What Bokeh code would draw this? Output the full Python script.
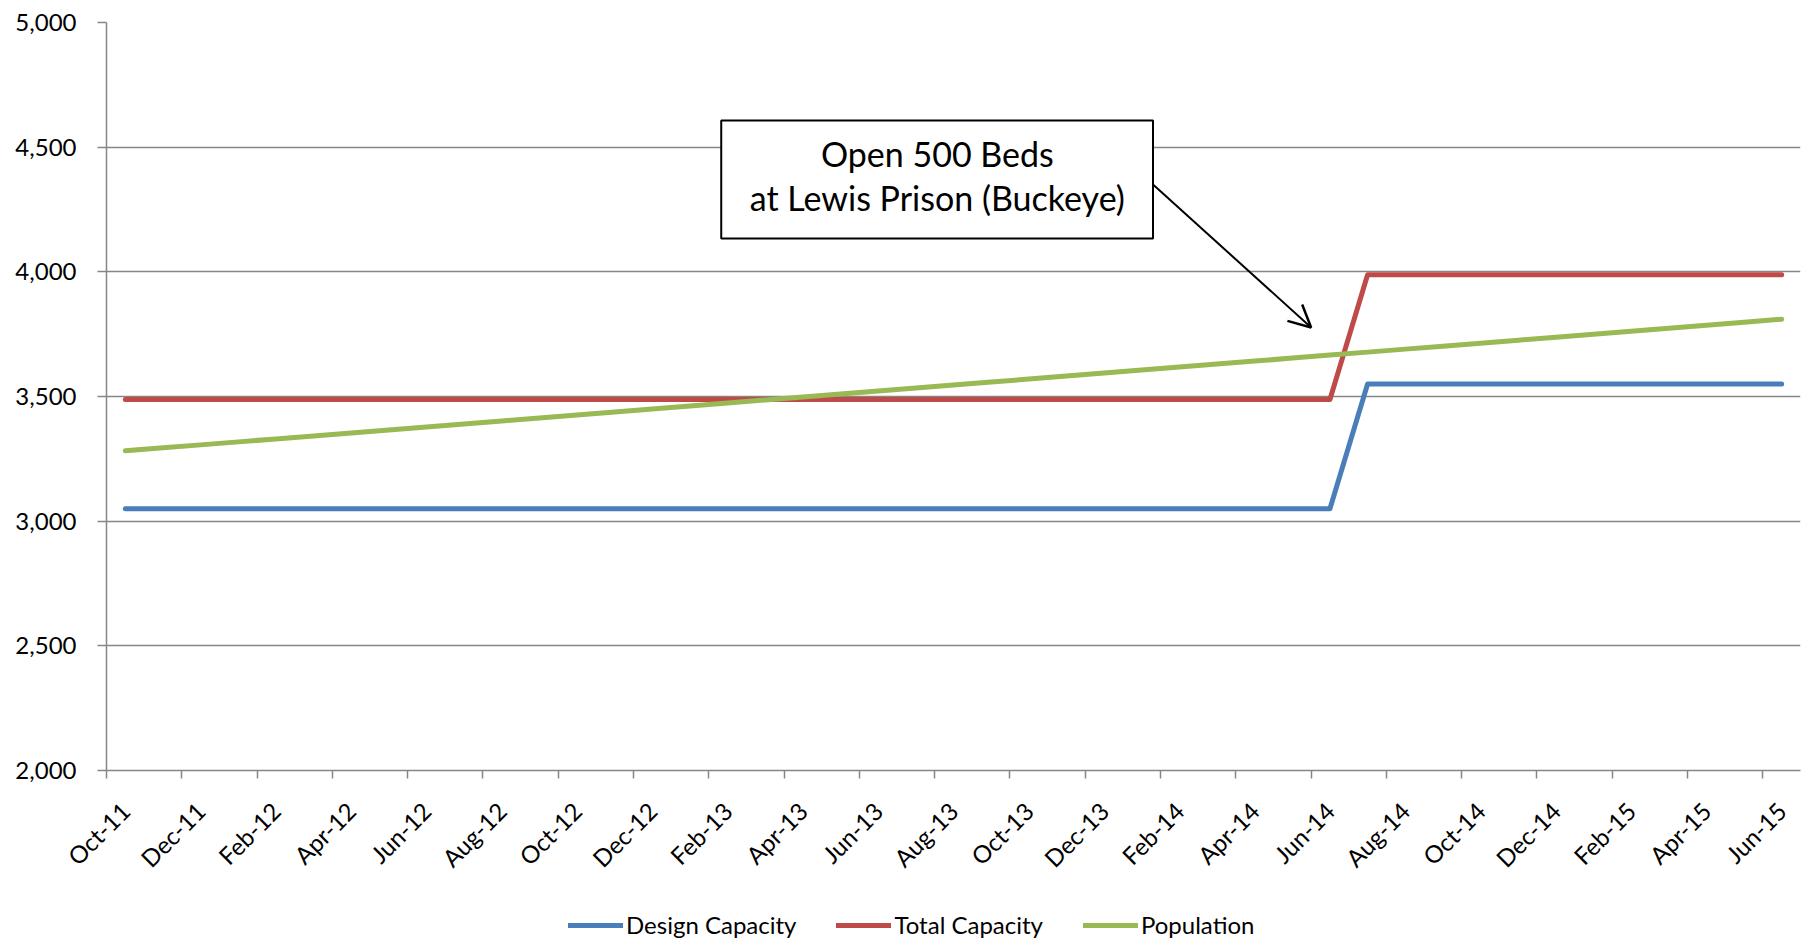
import math

from bokeh.embed import file_html
from bokeh.layouts import column
from bokeh.models import (Arrow, BoxAnnotation, ColumnDataSource, FixedTicker,
                          Label, Legend, LegendItem, NumeralTickFormatter,
                          OpenHead, Range1d)
from bokeh.plotting import figure
from bokeh.resources import INLINE

# Monthly series, Oct-11 through Jun-15
months = [
    "Oct-11", "Nov-11", "Dec-11", "Jan-12", "Feb-12", "Mar-12", "Apr-12", "May-12",
    "Jun-12", "Jul-12", "Aug-12", "Sep-12", "Oct-12", "Nov-12", "Dec-12", "Jan-13",
    "Feb-13", "Mar-13", "Apr-13", "May-13", "Jun-13", "Jul-13", "Aug-13", "Sep-13",
    "Oct-13", "Nov-13", "Dec-13", "Jan-14", "Feb-14", "Mar-14", "Apr-14", "May-14",
    "Jun-14", "Jul-14", "Aug-14", "Sep-14", "Oct-14", "Nov-14", "Dec-14", "Jan-15",
    "Feb-15", "Mar-15", "Apr-15", "May-15", "Jun-15",
]

design_capacity = [
    3050, 3050, 3050, 3050, 3050, 3050, 3050, 3050, 3050, 3050, 3050, 3050,
    3050, 3050, 3050, 3050, 3050, 3050, 3050, 3050, 3050, 3050, 3050, 3050,
    3050, 3050, 3050, 3050, 3050, 3050, 3050, 3050, 3050, 3550, 3550, 3550,
    3550, 3550, 3550, 3550, 3550, 3550, 3550, 3550, 3550,
]

total_capacity = [
    3488, 3488, 3488, 3488, 3488, 3488, 3488, 3488, 3488, 3488, 3488, 3488,
    3488, 3488, 3488, 3488, 3488, 3488, 3488, 3488, 3488, 3488, 3488, 3488,
    3488, 3488, 3488, 3488, 3488, 3488, 3488, 3488, 3488, 3988, 3988, 3988,
    3988, 3988, 3988, 3988, 3988, 3988, 3988, 3988, 3988,
]

population = [
    3282, 3294, 3306, 3318, 3330, 3342, 3354, 3366, 3378, 3390, 3402, 3414,
    3426, 3438, 3450, 3462, 3474, 3486, 3498, 3510, 3522, 3534, 3546, 3558,
    3570, 3582, 3594, 3606, 3618, 3630, 3642, 3654, 3666, 3678, 3690, 3702,
    3714, 3726, 3738, 3750, 3762, 3774, 3786, 3798, 3810,
]

series_names = ["Design Capacity", "Total Capacity", "Population"]
series_colors = ["#4A7EBB", "#BE4B48", "#98B954"]

y_ticks = [2000, 2500, 3000, 3500, 4000, 4500, 5000]

FONT = "Lato"
GRID = "#868686"
LINE_W = 5

idx = list(range(len(months)))
src = ColumnDataSource(dict(
    x=idx, design=design_capacity, total=total_capacity, pop=population,
))

p = figure(
    width=1806, height=890,
    x_range=Range1d(-0.5, len(months) - 0.5),
    y_range=Range1d(2000, 5000),
    output_backend="svg", toolbar_location=None,
    min_border_left=106, min_border_right=6,
    min_border_top=22, min_border_bottom=120,
)
p.outline_line_color = None
p.background_fill_color = "white"
p.border_fill_color = "white"

# category axis: labels on every second month, tick marks between months
label_pos = idx[::2]
xa = p.xaxis[0]
xa.ticker = FixedTicker(ticks=label_pos, minor_ticks=[i - 0.5 for i in label_pos])
xa.major_label_overrides = {i: months[i] for i in label_pos}
xa.major_label_orientation = math.pi / 4
xa.major_tick_line_color = None
xa.major_tick_out = 8
xa.major_tick_in = 0
xa.minor_tick_line_color = GRID
xa.minor_tick_line_width = 1.5
xa.minor_tick_out = 8
xa.minor_tick_in = 0
xa.axis_line_color = GRID
xa.axis_line_width = 1.5
xa.major_label_text_font = FONT
xa.major_label_text_font_size = "24px"
xa.major_label_text_color = "black"
xa.major_label_standoff = 28

ya = p.yaxis[0]
ya.ticker = FixedTicker(ticks=y_ticks, minor_ticks=[])
ya.formatter = NumeralTickFormatter(format="0,0")
ya.major_tick_line_color = GRID
ya.major_tick_line_width = 1.5
ya.major_tick_out = 9
ya.major_tick_in = 0
ya.axis_line_color = GRID
ya.axis_line_width = 1.5
ya.major_label_text_font = FONT
ya.major_label_text_font_size = "24px"
ya.major_label_text_color = "black"
ya.major_label_standoff = 21

p.xgrid.visible = False
p.ygrid.ticker = FixedTicker(ticks=y_ticks)
p.ygrid.grid_line_color = GRID
p.ygrid.grid_line_width = 1.5

style = dict(line_width=LINE_W, line_cap="round", line_join="round")
for col, color in zip(["design", "total", "pop"], series_colors):
    p.line("x", col, source=src, color=color, **style)

# callout box with arrow pointing at the capacity step
box = BoxAnnotation(left=15.83, right=27.30, bottom=4134, top=4607,
                    fill_color="white", fill_alpha=1.0,
                    line_color="black", line_alpha=1.0, line_width=2)
p.add_layout(box)
for txt, yy in (("Open 500 Beds", 4474), ("at Lewis Prison (Buckeye)", 4298)):
    p.add_layout(Label(x=21.57, y=yy, text=txt, text_align="center",
                       text_baseline="middle", text_font=FONT,
                       text_font_size="34px", text_color="black"))
p.add_layout(Arrow(x_start=27.30, y_start=4350, x_end=31.5, y_end=3777,
                   line_color="black", line_width=2,
                   end=OpenHead(size=22, line_color="black", line_width=2.5)))

# legend strip underneath the chart; its swatch lines sit outside the visible range
leg = figure(
    width=1806, height=55, x_range=Range1d(0, 1), y_range=Range1d(0, 1),
    output_backend="svg", toolbar_location=None,
    x_axis_location=None, y_axis_location=None, min_border=0,
)
leg.outline_line_color = None
leg.xgrid.visible = False
leg.ygrid.visible = False
items = []
for name, color in zip(series_names, series_colors):
    r = leg.line(x=[-5, -4], y=[-5, -5], color=color, line_width=LINE_W,
                 line_cap="round")
    items.append(LegendItem(label=name, renderers=[r]))

legend = Legend(
    items=items,
    orientation="horizontal",
    location=(462, 6),
    padding=0, margin=0, spacing=40,
    glyph_width=55, glyph_height=24, label_standoff=3,
    label_text_font=FONT, label_text_font_size="24px",
    label_text_color="black",
    border_line_color=None, background_fill_alpha=0,
)
leg.add_layout(legend)

page = column(p, leg, spacing=0)
open("out.html", "w").write(file_html(page, INLINE))
